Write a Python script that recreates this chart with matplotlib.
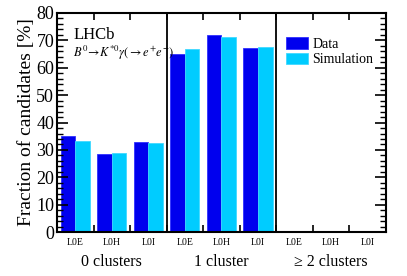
import matplotlib
matplotlib.use("Agg")
import matplotlib.pyplot as plt
import numpy as np
from matplotlib.ticker import MultipleLocator

plt.rcParams["font.family"] = "Liberation Serif"
plt.rcParams["mathtext.fontset"] = "stix"

groups = ["0 clusters", "1 cluster", "\u2265 2 clusters"]
triggers = ["L0E", "L0H", "L0I"]
data_vals = [35.1, 28.4, 33.0, 65.2, 72.1, 67.2, 0.0, 0.0, 0.0]
sim_vals = [33.4, 29.0, 32.6, 66.9, 71.4, 67.7, 0.0, 0.0, 0.0]

fig = plt.figure(figsize=(4.07, 2.76), dpi=100)
ax = fig.add_axes([0.140, 0.159, 0.808, 0.794])

n = len(data_vals)
x = np.arange(n)
ax.bar(x + 0.1, data_vals, width=0.4, align="edge", color="#0000ee",
       edgecolor="#3030ff", linewidth=0.6, label="Data")
ax.bar(x + 0.5, sim_vals, width=0.4, align="edge", color="#00ccff",
       edgecolor="#40d8ff", linewidth=0.6, label="Simulation")

for sep in [3, 6]:
    ax.axvline(sep, color="black", lw=1.3)

ax.set_xlim(0, n)
ax.set_ylim(0, 80)

ax.set_xticks(np.arange(n + 1))
ax.set_xticklabels([])
ax.set_xticks(x + 0.5, minor=True)
ax.set_xticklabels(triggers * 3, minor=True, fontsize=7)
ax.tick_params(axis="x", which="major", direction="in", length=5, width=1.2,
               top=True, bottom=True)
ax.tick_params(axis="x", which="minor", length=0, pad=4)

ax.yaxis.set_major_locator(MultipleLocator(10))
ax.yaxis.set_minor_locator(MultipleLocator(2))
ax.tick_params(axis="y", which="major", direction="in", length=8, width=1.2,
               left=True, right=True, labelsize=13, pad=2)
ax.tick_params(axis="y", which="minor", direction="in", length=4, width=1.0,
               left=True, right=True)
for s in ax.spines.values():
    s.set_linewidth(1.5)

ax.set_ylabel("Fraction of candidates [%]", fontsize=14, labelpad=1)

for i, g in enumerate(groups):
    ax.text(3 * i + 1.5, -11, g, ha="center", va="center", fontsize=11.5)

ax.text(0.45, 72, "LHCb", fontsize=12, va="center")
ax.text(0.45, 65.5, r"$B^0\!\rightarrow\! K^{*0}\gamma(\rightarrow e^{+}e^{-})$",
        fontsize=9, va="center")

ax.legend(loc="upper left", bbox_to_anchor=(0.68, 0.915), frameon=False,
          fontsize=10, handlelength=1.6, handleheight=0.9, labelspacing=0.15,
          handletextpad=0.3, borderaxespad=0)

fig.savefig("out.png", dpi=100)
